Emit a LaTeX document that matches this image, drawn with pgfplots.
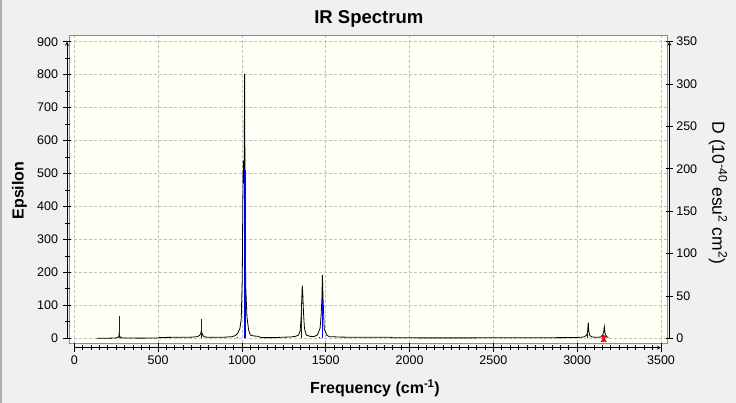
\documentclass[border=0pt]{standalone}
\usepackage{fontspec}
\setmainfont{Liberation Sans}
\usepackage{pgfplots}
\pgfplotsset{compat=1.18}
\definecolor{bgout}{RGB}{240,240,240}
\definecolor{plotbg}{RGB}{255,255,245}
\definecolor{framegray}{RGB}{140,140,140}
\definecolor{gridgray}{RGB}{192,192,192}
\begin{document}
\begin{tikzpicture}
\useasboundingbox (0pt,0pt) rectangle (736pt,403pt);
\fill[bgout] (0pt,0pt) rectangle (736pt,403pt);
\fill[gray!65] (0pt,0pt) rectangle (1.5pt,403pt);
\pgfplotsset{
  myticks/.style={
    /pgf/number format/assume math mode=true,
    /pgf/number format/1000 sep={},
    tick label style={font=\fontsize{12.5}{14}\selectfont, text=black},
    tick style={black, line width=0.8pt},
    axis line style={black, line width=0.8pt, -},
    tick align=outside,
    scale only axis,
  }
}
% main frame, grid and spectrum (Epsilon)
\begin{axis}[at={(69pt,60pt)}, anchor=south west, scale only axis,
  width=598pt, height=308pt,
  xmin=-31.62, xmax=3535.8, ymin=-14.26, ymax=920.3,
  axis background/.style={fill=plotbg},
  axis line style={framegray, line width=0.8pt},
  xtick={0,500,...,3500}, ytick={0,100,...,900},
  xmajorticks=false, ymajorticks=false,
  xmajorgrids=true, ymajorgrids=true,
  major grid style={gridgray, dash pattern=on 3pt off 2pt, line width=0.6pt},
]
\addplot[black, line width=0.8pt] coordinates {
(134,0) (200,0.3) (240,0.8) (255,1.5) (262,3.5) (266,8) (268,15) (270,8) (274,3.5) (281,1.5)
(300,0.8) (400,0.5) (500,1) (510,2.5) (600,3) (700,3.5) (735,5) (748,9) (755,16) (758,25)
(761,17) (766,9) (775,5) (790,3.5) (850,3) (900,3.5) (940,5) (960,8) (975,15) (988,30)
(996,60) (1002,182) (1005,400) (1008,539) (1011,500) (1013,470) (1016,802) (1019,330) (1023,153) (1030,65)
(1040,25) (1050,10) (1070,7) (1096,6) (1110,3) (1130,2) (1186,2) (1230,3) (1290,4) (1320,6)
(1338,10) (1347,22) (1353,60) (1357,120) (1360,160) (1363,135) (1367,80) (1373,30) (1384,10)
(1405,6) (1430,5) (1450,10) (1466,30) (1472,66) (1477,120) (1480,192) (1484,120) (1491,30) (1505,10)
(1520,5) (1600,3.5) (1890,3) (1900,1.5) (2200,1.2) (2600,1.5) (2900,2) (3000,2.5) (3040,4) (3055,9)
(3058,12) (3062,20) (3066,48.5) (3069,22) (3075,8) (3090,4) (3120,3) (3140,4) (3152,9) (3158,20)
(3162,35) (3166,15) (3175,5) (3186,2)
};
\end{axis}
% sticks (D)
\begin{axis}[at={(69pt,60pt)}, anchor=south west, scale only axis,
  width=598pt, height=308pt,
  xmin=-31.62, xmax=3535.8, ymin=-5.546, ymax=357.9, hide axis]
\addplot[ycomb, blue, line width=0.9pt, no markers] coordinates {
(268,26.3) (615,1) (760,22.8) (823,1) (975,1.2) (1016,199.8) (1021,199)
(1356,38.1) (1460,1) (1478,46.7) (3060,5.9) (3158,4)
};
\addplot[only marks, red, mark=triangle*, mark size=3pt, mark options={rotate=180}] coordinates {(3158,1.28)};
\addplot[only marks, red, mark=triangle*, mark size=3pt] coordinates {(3158,-2.22)};
\end{axis}
% left axis
\begin{axis}[myticks, at={(67pt,64.7pt)}, anchor=south west, width=5pt, height=296.6pt,
  xmin=0, xmax=1, ymin=0, ymax=900, axis y line=left, hide x axis,
  ytick={0,100,...,900}, minor ytick={50,150,...,850},
  yticklabel style={xshift=-1.5pt},
  major tick length=8pt, minor tick length=5pt]
\end{axis}
% bottom axis
\begin{axis}[myticks, at={(74.3pt,55.3pt)}, anchor=south west, width=586.7pt, height=5pt,
  xmin=0, xmax=3500, ymin=0, ymax=1, axis x line=bottom, hide y axis,
  xtick={0,500,...,3500}, minor x tick num=9,
  major tick length=8.5pt, minor tick length=5pt]
\end{axis}
% right axis
\begin{axis}[myticks, at={(669.3pt,64.7pt)}, anchor=south east, width=5pt, height=296.6pt,
  xmin=0, xmax=1, ymin=0, ymax=350, axis y line=right, hide x axis,
  ytick={0,50,...,350}, major tick length=7pt]
\end{axis}
\node[font=\bfseries\fontsize{18.5}{20}\selectfont, anchor=base] at (368.8pt,379pt) {IR Spectrum};
\node[font=\bfseries\fontsize{16}{18}\selectfont, anchor=base] at (375pt,9.7pt) {Frequency (cm\textsuperscript{-1})};
\node[font=\bfseries\fontsize{16}{18}\selectfont, rotate=90] at (19.5pt,212.5pt) {Epsilon};
\node[font=\fontsize{17.5}{19}\selectfont, rotate=-90] at (718pt,210pt) {D (10\textsuperscript{-40} esu\textsuperscript{2} cm\textsuperscript{2})};
\end{tikzpicture}
\end{document}
